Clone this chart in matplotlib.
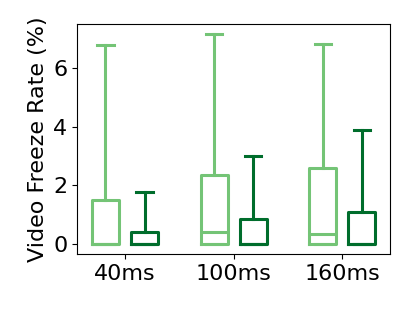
import matplotlib as mpl
mpl.use('Agg')
import matplotlib.pyplot as plt

delays = ['40ms', '100ms', '160ms']

# light series
light_med = [0.0, 0.38, 0.32]
light_q3 = [1.48, 2.33, 2.58]
light_top = [6.78, 7.15, 6.84]

# dark series
dark_med = [0.0, 0.0, 0.0]
dark_q3 = [0.38, 0.84, 1.07]
dark_top = [1.76, 2.99, 3.87]

light_c = '#74c476'
dark_c = '#006d2c'

fig, ax = plt.subplots(figsize=(4.15, 3.12), dpi=100)

def stats(med, q3, top):
    return [{'whislo': 0.0, 'q1': 0.0, 'med': m, 'q3': q, 'whishi': t}
            for m, q, t in zip(med, q3, top)]

pos = range(len(delays))
for off, (med, q3, top), c in [(-0.18, (light_med, light_q3, light_top), light_c),
                                (0.18, (dark_med, dark_q3, dark_top), dark_c)]:
    props = dict(color=c, linewidth=2.2)
    ax.bxp(stats(med, q3, top), positions=[p + off for p in pos], widths=0.25,
           capwidths=0.15, showfliers=False,
           boxprops=props, whiskerprops=props, capprops=props, medianprops=props)

ax.set_xticks(list(pos))
ax.set_xticklabels(delays, fontsize=16)
ax.set_xlim(-0.44, 2.44)
ax.set_yticks([0, 2, 4, 6])
ax.tick_params(axis='y', labelsize=16)
ax.set_ylabel('Video Freeze Rate (%)', fontsize=16)
ax.margins(y=0.05)

fig.subplots_adjust(left=0.186, right=0.94, top=0.923, bottom=0.186)
fig.savefig('out.png')
